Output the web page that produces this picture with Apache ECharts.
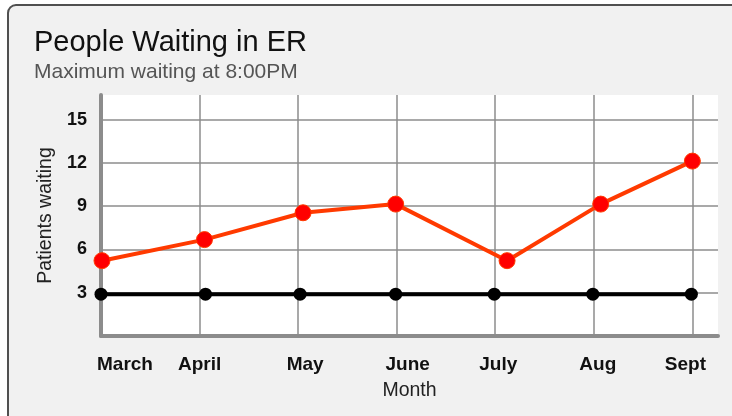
<!DOCTYPE html>
<html><head><meta charset="utf-8">
<script src="https://cdn.jsdelivr.net/npm/echarts@6/dist/echarts.min.js"></script>
<style>
html,body{margin:0;padding:0;background:#fff;overflow:hidden;}
#frame{position:absolute;left:7px;top:4px;width:760px;height:440px;border:2px solid #505050;border-radius:9px;background:#f1f1f1;box-sizing:border-box;}
#chart{position:absolute;left:0;top:0;width:732px;height:416px;}
</style></head>
<body>
<div id="frame"></div>
<div id="chart"></div>
<script>
// Data
var months = ['March', 'April', 'May', 'June', 'July', 'Aug', 'Sept'];
var redX = [0.01, 1.05, 2.05, 2.99, 4.12, 5.07, 6.0];
var redY = [5.22, 6.68, 8.54, 9.14, 5.22, 9.14, 12.12];
var blackX = [0.0, 1.06, 2.02, 2.99, 3.99, 4.99, 5.99];
var blackY = [2.9, 2.9, 2.9, 2.9, 2.9, 2.9, 2.9];
var yTicks = [3, 6, 9, 12, 15];

function pairs(xs, ys) { return xs.map(function (x, i) { return [x, ys[i]]; }); }

var FONT = 'Liberation Sans, Arial, sans-serif';
var labelPad = {
  March: [0, 0, 0, 48], April: [0, 0, 0, 0], May: [0, 0, 0, 14], June: [0, 0, 0, 22],
  July: [0, 0, 0, 6], Aug: [0, 0, 0, 8], Sept: [0, 14, 0, 0]
};
var rich = {};
months.forEach(function (m, i) {
  rich['m' + i] = { padding: labelPad[m], fontWeight: 'bold', fontSize: 19, color: '#111', fontFamily: FONT };
});

var gridCol = '#8c8c8c';
var chart = echarts.init(document.getElementById('chart'));
chart.setOption({
  backgroundColor: 'transparent',
  animation: false,
  textStyle: { fontFamily: FONT },
  title: {
    text: 'People Waiting in ER',
    subtext: 'Maximum waiting at 8:00PM',
    left: 29, top: 23,
    itemGap: 5,
    textStyle: { fontSize: 29, fontWeight: 'normal', color: '#111', fontFamily: FONT },
    subtextStyle: { fontSize: 21, color: '#555', fontFamily: FONT }
  },
  grid: { left: 101, right: 14, top: 95, bottom: 80, show: true, backgroundColor: '#ffffff', borderWidth: 0 },
  xAxis: {
    type: 'value', min: 0, max: 6.26, interval: 1,
    name: 'Month', nameLocation: 'middle', nameGap: 45,
    nameTextStyle: { fontSize: 19.5, color: '#222' },
    axisLine: { show: true, lineStyle: { color: gridCol, width: 4 } },
    axisTick: { show: false },
    axisLabel: {
      margin: 19,
      formatter: function (v) {
        var i = Math.round(v);
        if (Math.abs(v - i) > 1e-6 || i < 0 || i >= months.length) return '';
        return '{m' + i + '|' + months[i] + '}';
      },
      rich: rich
    },
    splitLine: { show: true, lineStyle: { color: ['transparent', gridCol, gridCol, gridCol, gridCol, gridCol, gridCol, 'transparent'], width: 1.5 } }
  },
  yAxis: {
    type: 'value', min: 0, max: 16.7, interval: 3,
    name: 'Patients waiting', nameLocation: 'middle', nameGap: 44,
    nameTextStyle: { fontSize: 19.5, color: '#222' },
    axisLine: { show: true, lineStyle: { color: gridCol, width: 4 } },
    axisTick: { show: false },
    axisLabel: {
      margin: 14, fontSize: 18, fontWeight: 'bold', color: '#111',
      formatter: function (v) { return yTicks.indexOf(v) >= 0 ? String(v) : ''; }
    },
    splitLine: { show: true, lineStyle: { color: ['transparent', gridCol, gridCol, gridCol, gridCol, gridCol, 'transparent'], width: 1.5 } }
  },
  series: [
    {
      type: 'line', data: pairs(blackX, blackY),
      symbol: 'circle', symbolSize: 13,
      lineStyle: { color: '#000', width: 4 },
      itemStyle: { color: '#000' }, z: 3
    },
    {
      type: 'line', data: pairs(redX, redY),
      symbol: 'circle', symbolSize: 16,
      lineStyle: { color: '#ff3a00', width: 4 },
      itemStyle: { color: '#ff0000', borderColor: '#ff3a00', borderWidth: 1 }, z: 4
    }
  ]
});
</script>
</body></html>
